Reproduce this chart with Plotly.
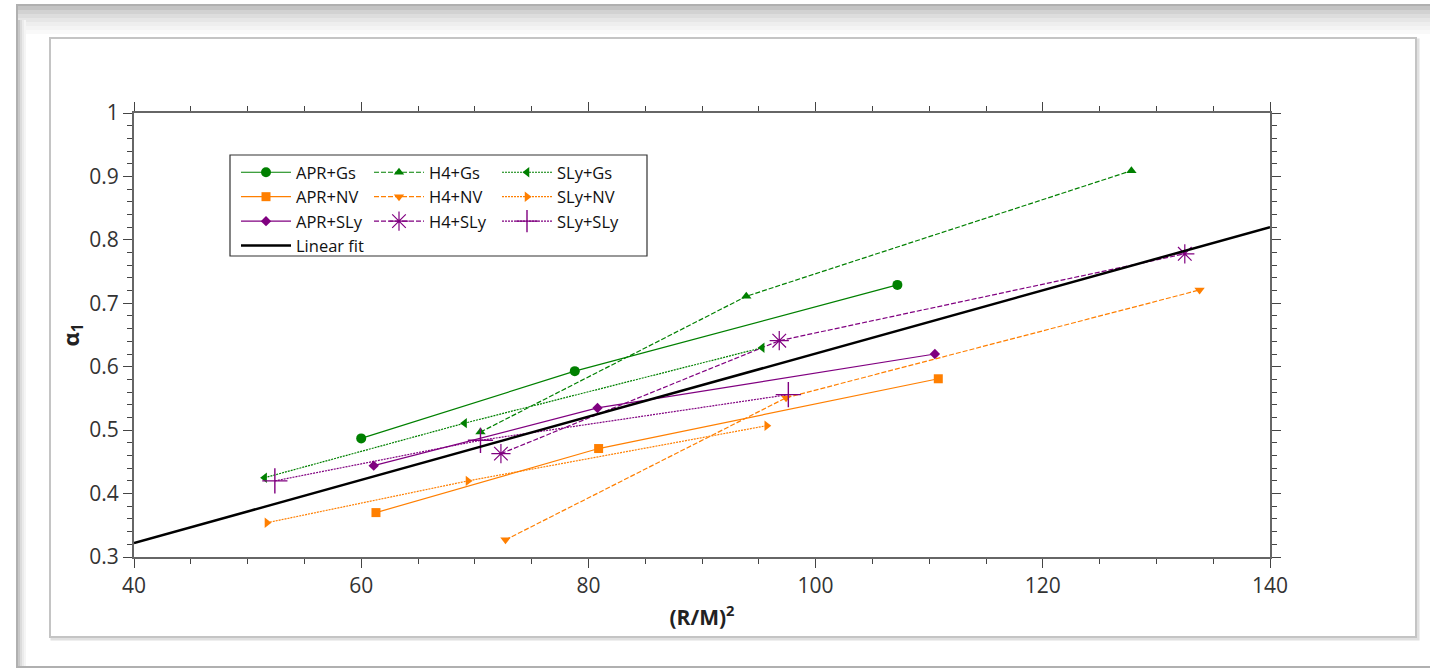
import plotly.graph_objects as go

# ---------------- data ----------------
apr_gs_x = [60.0, 78.8, 107.2]
apr_gs_y = [0.487, 0.593, 0.729]
h4_gs_x = [70.5, 93.9, 127.8]
h4_gs_y = [0.497, 0.711, 0.909]
sly_gs_x = [51.5, 69.1, 95.3]
sly_gs_y = [0.425, 0.511, 0.630]

apr_nv_x = [61.3, 80.9, 110.8]
apr_nv_y = [0.370, 0.471, 0.581]
h4_nv_x = [72.7, 97.4, 133.8]
h4_nv_y = [0.327, 0.551, 0.721]
sly_nv_x = [51.7, 69.4, 95.7]
sly_nv_y = [0.354, 0.420, 0.507]

apr_sly_x = [61.1, 80.8, 110.5]
apr_sly_y = [0.444, 0.535, 0.620]
h4_sly_x = [72.3, 96.8, 132.5]
h4_sly_y = [0.463, 0.641, 0.778]
sly_sly_x = [52.4, 70.5, 97.6]
sly_sly_y = [0.420, 0.484, 0.556]

fit_x = [40, 140]
fit_y = [0.322, 0.820]

x_ticks = [40, 60, 80, 100, 120, 140]
y_ticks = [0.3, 0.4, 0.5, 0.6, 0.7, 0.8, 0.9, 1.0]
y_ticklabels = ["0.3", "0.4", "0.5", "0.6", "0.7", "0.8", "0.9", "1"]

GREEN = "#008000"
ORANGE = "#ff7f00"
PURPLE = "#800080"
FONT = "Open Sans"

# plot area in pixels
W, H = 1430, 670
L, R, T, B = 134, 160, 113, 113
PW, PH = W - L - R, H - T - B


def px(xp):
    return (xp - L) / PW


def py(yp):
    return (H - B - yp) / PH


fig = go.Figure()


def add(name, x, y, color, dash, symbol, size, legend, lw=1.2, mline=0):
    fig.add_trace(go.Scatter(
        x=x, y=y, name=name, mode="lines+markers", legend=legend,
        line=dict(color=color, width=lw, dash=dash),
        marker=dict(color=color, symbol=symbol, size=size,
                    line=dict(color=color, width=mline)),
    ))


SOLID = "solid"
DASH = "5px,2px"
DOT = "2px,1px"

add("APR+Gs", apr_gs_x, apr_gs_y, GREEN, SOLID, "circle", 10, "legend")
add("APR+NV", apr_nv_x, apr_nv_y, ORANGE, SOLID, "square", 9, "legend")
add("APR+SLy", apr_sly_x, apr_sly_y, PURPLE, SOLID, "diamond", 8, "legend")
add("H4+Gs", h4_gs_x, h4_gs_y, GREEN, DASH, "triangle-up", 9, "legend2")
add("H4+NV", h4_nv_x, h4_nv_y, ORANGE, DASH, "triangle-down", 9, "legend2")
add("H4+SLy", h4_sly_x, h4_sly_y, PURPLE, DASH, "asterisk-open", 16, "legend2", mline=1.2)
add("SLy+Gs", sly_gs_x, sly_gs_y, GREEN, DOT, "triangle-left", 9, "legend3")
add("SLy+NV", sly_nv_x, sly_nv_y, ORANGE, DOT, "triangle-right", 9, "legend3")
add("SLy+SLy", sly_sly_x, sly_sly_y, PURPLE, DOT, "cross-thin-open", 18, "legend3", mline=1.4)

fig.add_trace(go.Scatter(
    x=fit_x, y=fit_y, name="Linear fit", mode="lines", legend="legend",
    line=dict(color="black", width=2.5),
))

axis_common = dict(
    showline=True, linecolor="#666666", linewidth=2, mirror="allticks",
    ticks="outside", ticklen=9, tickwidth=1, tickcolor="#444444",
    showgrid=False, zeroline=False,
    tickfont=dict(family=FONT, size=21, color="#333333"),
)

fig.update_xaxes(
    range=[40, 140], tickvals=x_ticks,
    minor=dict(dtick=5, ticks="outside", ticklen=5, tickcolor="#444444"),
    title=dict(text="<b>(R/M)<sup>2</sup></b>", font=dict(family=FONT, size=21, color="#222"), standoff=12),
    **axis_common,
)
fig.update_yaxes(
    range=[0.3, 1.0], tickvals=y_ticks, ticktext=y_ticklabels,
    minor=dict(dtick=0.02, ticks="outside", ticklen=5, tickcolor="#444444"),
    title=dict(text="<b>α<sub>1</sub></b>", font=dict(family=FONT, size=22, color="#222"), standoff=4),
    **axis_common,
)

leg_common = dict(
    orientation="v", yanchor="top", xanchor="left", bgcolor="rgba(0,0,0,0)",
    borderwidth=0, itemwidth=50, tracegroupgap=0,
    font=dict(family=FONT, size=16.5, color="#111"),
)
fig.update_layout(
    legend=dict(x=px(236), y=py(155), **leg_common),
    legend2=dict(x=px(369), y=py(155), **leg_common),
    legend3=dict(x=px(497), y=py(155), **leg_common),
)

shapes = []
# outer card
shapes.append(dict(type="rect", xref="paper", yref="paper",
                   x0=px(17), x1=px(1445), y0=py(667), y1=py(5),
                   line=dict(color="#b0b0b0", width=2), fillcolor="white", layer="below"))
# gradient at top of card
top_grad = ["#c4c4c4", "#d2d2d2", "#dddddd", "#e6e6e6", "#eeeeee", "#f4f4f4", "#f9f9f9"]
for i, c in enumerate(top_grad):
    shapes.append(dict(type="rect", xref="paper", yref="paper",
                       x0=px(18), x1=px(1440), y0=py(6 + 4 * (i + 1)), y1=py(6 + 4 * i),
                       line=dict(width=0), fillcolor=c, layer="below"))
# gradient at left of card
left_grad = ["#c8c8c8", "#dcdcdc", "#ebebeb", "#f5f5f5"]
for i, c in enumerate(left_grad):
    shapes.append(dict(type="rect", xref="paper", yref="paper",
                       x0=px(18 + 2 * i), x1=px(18 + 2 * (i + 1)), y0=py(666), y1=py(20),
                       line=dict(width=0), fillcolor=c, layer="below"))
# inner chart box (shadow + border)
shapes.append(dict(type="rect", xref="paper", yref="paper",
                   x0=px(52), x1=px(1418), y0=py(639), y1=py(40),
                   line=dict(color="#e0e0e0", width=3), fillcolor="white", layer="below"))
shapes.append(dict(type="rect", xref="paper", yref="paper",
                   x0=px(50), x1=px(1416), y0=py(637), y1=py(38),
                   line=dict(color="#c4c4c4", width=2), fillcolor="white", layer="below"))
# legend box
shapes.append(dict(type="rect", xref="paper", yref="paper",
                   x0=px(230), x1=px(647), y0=py(256), y1=py(155),
                   line=dict(color="#333333", width=1.2), fillcolor="white", layer="below"))

fig.update_layout(
    width=W, height=H,
    margin=dict(l=L, r=R, t=T, b=B),
    paper_bgcolor="white", plot_bgcolor="rgba(0,0,0,0)",
    shapes=shapes, showlegend=True,
    font=dict(family=FONT),
)

fig.write_html("out.html")
